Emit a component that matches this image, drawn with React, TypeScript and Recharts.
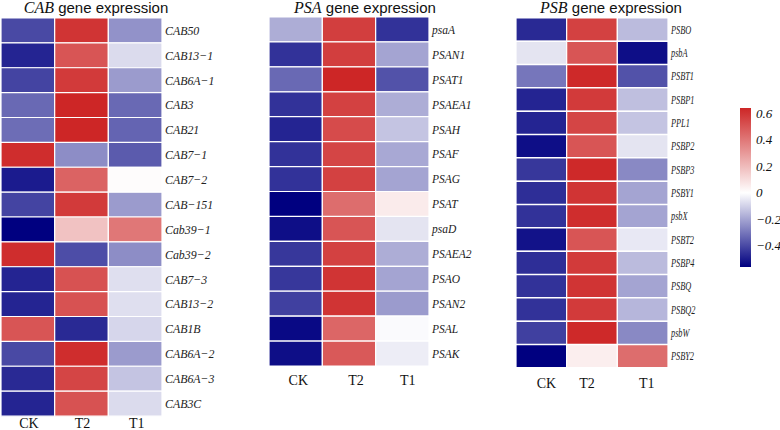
import { BarChart, Bar, XAxis, YAxis, Cell } from 'recharts';

const columns = ['CK', 'T2', 'T1'];

const cabGenes = ['CAB50', 'CAB13−1', 'CAB6A−1', 'CAB3', 'CAB21', 'CAB7−1', 'CAB7−2', 'CAB−151', 'Cab39−1', 'Cab39−2', 'CAB7−3', 'CAB13−2', 'CAB1B', 'CAB6A−2', 'CAB6A−3', 'CAB3C'];
const cabCK = [-0.4, -0.48, -0.41, -0.33, -0.32, 0.62, -0.5, -0.41, -0.56, 0.62, -0.48, -0.48, 0.5, -0.4, -0.47, -0.48];
const cabT2 = [0.6, 0.5, 0.58, 0.64, 0.64, -0.25, 0.46, 0.58, 0.18, -0.39, 0.51, 0.51, -0.47, 0.62, 0.55, 0.51];
const cabT1 = [-0.24, -0.08, -0.22, -0.33, -0.34, -0.36, 0.01, -0.22, 0.4, -0.25, -0.07, -0.07, -0.09, -0.22, -0.13, -0.08];

const psaGenes = ['psaA', 'PSAN1', 'PSAT1', 'PSAEA1', 'PSAH', 'PSAF', 'PSAG', 'PSAT', 'psaD', 'PSAEA2', 'PSAO', 'PSAN2', 'PSAL', 'PSAK'];
const psaCK = [-0.18, -0.45, -0.33, -0.45, -0.48, -0.45, -0.45, -0.56, -0.53, -0.44, -0.44, -0.42, -0.54, -0.53];
const psaT2 = [0.57, 0.57, 0.64, 0.56, 0.53, 0.55, 0.56, 0.43, 0.5, 0.56, 0.6, 0.6, 0.45, 0.49];
const psaT1 = [-0.45, -0.2, -0.38, -0.18, -0.13, -0.19, -0.2, 0.06, -0.06, -0.18, -0.2, -0.22, -0.01, -0.04];

const psbGenes = ['PSBO', 'psbA', 'PSBT1', 'PSBP1', 'PPL1', 'PSBP2', 'PSBP3', 'PSBY1', 'psbX', 'PSBT2', 'PSBP4', 'PSBQ', 'PSBQ2', 'psbW', 'PSBY2'];
const psbCK = [-0.47, -0.06, -0.3, -0.48, -0.48, -0.53, -0.44, -0.46, -0.45, -0.52, -0.46, -0.45, -0.45, -0.42, -0.56];
const psbT2 = [0.56, 0.5, 0.63, 0.58, 0.55, 0.5, 0.63, 0.6, 0.62, 0.5, 0.58, 0.6, 0.58, 0.63, 0.05];
const psbT1 = [-0.15, -0.53, -0.38, -0.14, -0.13, -0.06, -0.26, -0.2, -0.2, -0.05, -0.15, -0.2, -0.16, -0.26, 0.43];

const scaleMin = -0.56;
const scaleMax = 0.64;
const scaleTicks = [-0.4, -0.2, 0, 0.2, 0.4, 0.6];

const NAVY = [0, 0, 128];
const RED = [205, 38, 38];

function mix(a: number[], b: number[], t: number) {
  const c = a.map((x, i) => Math.round(x + (b[i] - x) * t));
  return `rgb(${c[0]},${c[1]},${c[2]})`;
}

function heat(v: number) {
  if (v < 0) return mix(NAVY, [255, 255, 255], Math.max(0, 1 - v / scaleMin));
  return mix([255, 255, 255], RED, Math.min(1, v / scaleMax));
}

const fmt = (v: number) => (v < 0 ? '−' + Math.abs(v) : String(v));

const GeneTick = (props: any) => {
  const { x, y, payload, size, sx } = props;
  return (
    <text
      transform={`translate(${x},${y}) scale(${sx},1)`}
      dy="0.35em"
      textAnchor="start"
      fontFamily="Liberation Serif"
      fontStyle="italic"
      fontSize={size}
      fill="#222"
    >
      {payload.value}
    </text>
  );
};

function Heatmap(props: any) {
  const { genes, values, ticks, left, width, mLeft, mTop, axisH, mBottom, yW, tickMargin, labelSize, labelSx } = props;
  const rows = genes.map((g: string) => ({ gene: g, CK: 1, T2: 1, T1: 1 }));
  return (
    <div style={{ position: 'absolute', left, top: 0 }}>
      <BarChart
        layout="vertical"
        width={width}
        height={430}
        data={rows}
        margin={{ top: mTop, left: mLeft, right: 0, bottom: mBottom }}
        barCategoryGap={0}
      >
        <XAxis
          type="number"
          domain={[0, 3]}
          ticks={ticks}
          interval={0}
          tickFormatter={(_v: number, i: number) => columns[i]}
          axisLine={false}
          tickLine={false}
          tickSize={0}
          tickMargin={tickMargin}
          height={axisH}
          tick={{ fontFamily: 'Liberation Serif', fontSize: 14, fill: '#111' }}
        />
        <YAxis
          type="category"
          dataKey="gene"
          orientation="right"
          width={yW}
          interval={0}
          axisLine={false}
          tickLine={false}
          tickSize={0}
          tickMargin={3}
          tick={<GeneTick size={labelSize} sx={labelSx} />}
        />
        {columns.map((c, ci) => (
          <Bar key={c} dataKey={c} stackId="h" isAnimationActive={false} stroke="#fff" strokeWidth={1.2}>
            {values[ci].map((v: number, i: number) => (
              <Cell key={i} fill={heat(v)} />
            ))}
          </Bar>
        ))}
      </BarChart>
    </div>
  );
}

function Title({ gene, center }: { gene: string; center: number }) {
  return (
    <div
      style={{
        position: 'absolute',
        left: center - 100,
        width: 200,
        top: 0,
        textAlign: 'center',
        lineHeight: '15px',
        whiteSpace: 'nowrap',
        color: '#111',
      }}
    >
      <span style={{ fontFamily: 'Liberation Serif', fontStyle: 'italic', fontSize: 16 }}>{gene}</span>
      <span style={{ fontFamily: 'Liberation Sans', fontSize: 15 }}> gene expression</span>
    </div>
  );
}

export default function App() {
  const bar = [{ name: 'scale', range: [scaleMin, scaleMax] }];
  return (
    <div style={{ position: 'absolute', left: 0, top: 0, width: 780, height: 430, background: '#fff', overflow: 'hidden' }}>
      <Title gene="CAB" center={96} />
      <Title gene="PSA" center={365} />
      <Title gene="PSB" center={611} />
      <Heatmap
        genes={cabGenes}
        values={[cabCK, cabT2, cabT1]}
        ticks={[0.52, 1.52, 2.53]}
        left={0}
        width={225}
        mLeft={1}
        mTop={18}
        axisH={14}
        mBottom={0}
        yW={63}
        tickMargin={2}
        labelSize={12.5}
        labelSx={0.95}
      />
      <Heatmap
        genes={psaGenes}
        values={[psaCK, psaT2, psaT1]}
        ticks={[0.55, 1.63, 2.6]}
        left={262}
        width={230}
        mLeft={7}
        mTop={17}
        axisH={24}
        mBottom={40}
        yW={63}
        tickMargin={9}
        labelSize={12.5}
        labelSx={0.92}
      />
      <Heatmap
        genes={psbGenes}
        values={[psbCK, psbT2, psbT1]}
        ticks={[0.6, 1.4, 2.58]}
        left={510}
        width={215}
        mLeft={6}
        mTop={18}
        axisH={22}
        mBottom={40}
        yW={57}
        tickMargin={10}
        labelSize={11.5}
        labelSx={0.72}
      />
      <div style={{ position: 'absolute', left: 720, top: 0 }}>
        <BarChart width={60} height={430} data={bar} margin={{ top: 108, bottom: 163, left: 20, right: 0 }} barCategoryGap={0}>
          <defs>
            <linearGradient id="cbar" x1="0" y1="0" x2="0" y2="1">
              <stop offset="0%" stopColor="rgb(205,38,38)" />
              <stop offset={`${(scaleMax / (scaleMax - scaleMin)) * 100}%`} stopColor="#ffffff" />
              <stop offset="100%" stopColor="rgb(0,0,128)" />
            </linearGradient>
          </defs>
          <XAxis dataKey="name" hide />
          <YAxis
            type="number"
            orientation="right"
            domain={[scaleMin, scaleMax]}
            ticks={scaleTicks}
            allowDataOverflow
            width={29}
            axisLine={false}
            tickLine={false}
            tickSize={0}
            tickMargin={5}
            tickFormatter={fmt}
            tick={{ fontFamily: 'Liberation Serif', fontStyle: 'italic', fontSize: 13, fill: '#111', textAnchor: 'start' }}
          />
          <Bar dataKey="range" fill="url(#cbar)" isAnimationActive={false} />
        </BarChart>
      </div>
    </div>
  );
}
